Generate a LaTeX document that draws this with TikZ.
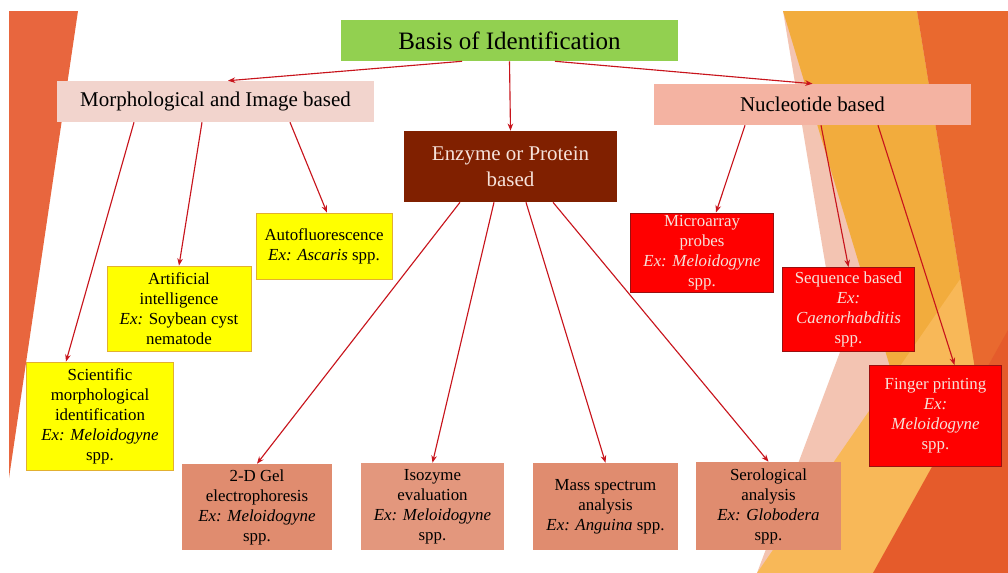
\documentclass[tikz,border=0pt]{standalone}
\usepackage{fontspec}
\setmainfont{Liberation Serif}
\usepackage{xcolor}
\usetikzlibrary{arrows.meta,calc}
\definecolor{slideorange}{HTML}{E8663E}
\definecolor{slidepink}{HTML}{F3C4B2}
\definecolor{slideamber}{HTML}{F2AC3D}
\definecolor{slidepeach}{HTML}{F8B858}
\definecolor{slidedark}{HTML}{E9692F}
\definecolor{slidered}{HTML}{E55B2B}
\definecolor{limegreen}{HTML}{92D050}
\definecolor{morphpink}{HTML}{F2D4CD}
\definecolor{nucleosalmon}{HTML}{F4B3A2}
\definecolor{enzymebrown}{HTML}{802000}
\definecolor{paletext}{HTML}{F6E2DA}
\definecolor{boxyellow}{HTML}{FFFF00}
\definecolor{yellowedge}{HTML}{E2B030}
\definecolor{proteinsalmon}{HTML}{E08C6F}
\definecolor{boxred}{HTML}{FF0000}
\definecolor{rededge}{HTML}{9A1010}
\definecolor{arrowred}{HTML}{C8141C}
\newcommand{\basisfont}{\fontsize{17.8}{21}\selectfont}
\newcommand{\groupfont}{\fontsize{14.9}{18.5}\selectfont}
\newcommand{\leaffont}{\fontsize{12}{14.2}\selectfont}
\tikzset{
  box/.style={rectangle,inner sep=0pt,align=center},
  groupbox/.style={box,font=\groupfont},
  morphbox/.style={box,fill=boxyellow,draw=yellowedge,line width=0.6pt,
                   font=\leaffont},
  proteinbox/.style={box,fill=proteinsalmon,font=\leaffont},
  dnabox/.style={box,fill=boxred,draw=rededge,line width=0.7pt,
                 font=\leaffont,text=paletext},
  redarr/.style={-{Stealth[length=1.8mm,width=1.4mm]},line width=0.8pt,
                 draw=arrowred}
}

\begin{document}
\begin{tikzpicture}[x=0.025cm,y=-0.025cm]
    \path[use as bounding box,fill=white] (0,0) rectangle (1008,573);

    % slide background
    \fill[slideorange] (9,11) -- (78,11) -- (9,478) -- cycle;
    \fill[slidepink] (783,11) -- (1008,11) -- (1008,573) -- (757,573)
      -- (840,352) -- cycle;
    \fill[slideamber] (783,11) -- (917,11) -- (1008,573) -- (952,573) -- cycle;
    \fill[slidepeach] (757,573) -- (1008,210) -- (1008,573) -- cycle;
    \fill[slidedark] (917,11) -- (1008,11) -- (1008,573) -- cycle;
    \fill[slidered] (873,573) -- (1008,330) -- (1008,573) -- cycle;

    \node[box,fill=limegreen,minimum width=8.425cm,minimum height=1.025cm,
      font=\basisfont] (basis) at (509.5,40.5) {Basis of Identification};

    \node[groupbox,fill=morphpink,minimum width=7.925cm,minimum height=1.025cm]
      (morph) at (215.5,101.5) {Morphological and Image based};
    \node[groupbox,fill=enzymebrown,text=paletext,minimum width=5.325cm,
      minimum height=1.775cm] (enzyme) at (510.5,166.5)
      {Enzyme or Protein\\based};
    \node[groupbox,fill=nucleosalmon,minimum width=7.925cm,minimum height=1.025cm]
      (nucleo) at (812.5,104.5) {Nucleotide based};

    \node[morphbox,minimum width=3.4cm,minimum height=1.65cm] (autofl)
      at (324,246) {Autofluorescence\\\textit{Ex: Ascaris} spp.};
    \node[morphbox,minimum width=3.6cm,minimum height=2.125cm] (ai)
      at (179,308.5) {Artificial\\intelligence\\\textit{Ex:} Soybean cyst\\nematode};
    \node[morphbox,minimum width=3.675cm,minimum height=2.7cm] (sci)
      at (100,416) {Scientific\\morphological\\identification\\
      \textit{Ex: Meloidogyne}\\spp.};

    \node[proteinbox,minimum width=3.75cm,minimum height=2.15cm] (gel)
      at (257,507) {2-D Gel\\electrophoresis\\\textit{Ex: Meloidogyne}\\spp.};
    \node[proteinbox,fill=proteinsalmon!90!white,minimum width=3.575cm,
      minimum height=2.175cm] (iso) at (432.5,506.5)
      {Isozyme\\evaluation\\\textit{Ex: Meloidogyne}\\spp.};
    \node[proteinbox,minimum width=3.625cm,minimum height=2.175cm] (mass)
      at (605.5,506.5) {Mass spectrum\\analysis\\\textit{Ex: Anguina} spp.};
    \node[proteinbox,minimum width=3.6cm,minimum height=2.2cm] (sero)
      at (768.5,506) {Serological\\analysis\\\textit{Ex: Globodera}\\spp.};

    \node[dnabox,minimum width=3.55cm,minimum height=1.975cm] (micro)
      at (702,252.5) {Microarray\\probes\\\textit{Ex: Meloidogyne}\\spp.};
    \node[dnabox,minimum width=3.3cm,minimum height=2.1cm] (seq)
      at (848.5,309.5) {Sequence based\\\textit{Ex:}\\\textit{Caenorhabditis}\\spp.};
    \node[dnabox,minimum width=3.275cm,minimum height=2.525cm] (finger)
      at (935.5,416) {Finger printing\\\textit{Ex:}\\\textit{Meloidogyne}\\spp.};

    % connectors
    \draw[redarr] ($(basis.south)+(-47.5,0)$) -- ($(morph.north)+(12.5,0)$);
    \draw[redarr] (basis.south) -- (enzyme.north);
    \draw[redarr] ($(basis.south)+(45.5,0)$) -- (nucleo.north);

    \draw[redarr] ($(morph.south)+(-81.5,0)$) -- ($(sci.north)+(-34,0)$);
    \draw[redarr] ($(morph.south)+(-13.5,0)$) -- (ai.north);
    \draw[redarr] ($(morph.south)+(74.5,0)$) -- ($(autofl.north)+(3,0)$);

    \draw[redarr] ($(enzyme.south)+(-50.5,0)$) -- (gel.north);
    \draw[redarr] ($(enzyme.south)+(-16.5,0)$) -- (iso.north);
    \draw[redarr] ($(enzyme.south)+(15.5,0)$) -- (mass.north);
    \draw[redarr] ($(enzyme.south)+(42.5,0)$) -- (sero.north);

    \draw[redarr] ($(nucleo.south)+(-67.5,0)$) -- ($(micro.north)+(14,0)$);
    \draw[redarr] ($(nucleo.south)+(8.5,0)$) -- (seq.north);
    \draw[redarr] ($(nucleo.south)+(65.5,0)$) -- ($(finger.north)+(19,0)$);
  \end{tikzpicture}
\end{document}
